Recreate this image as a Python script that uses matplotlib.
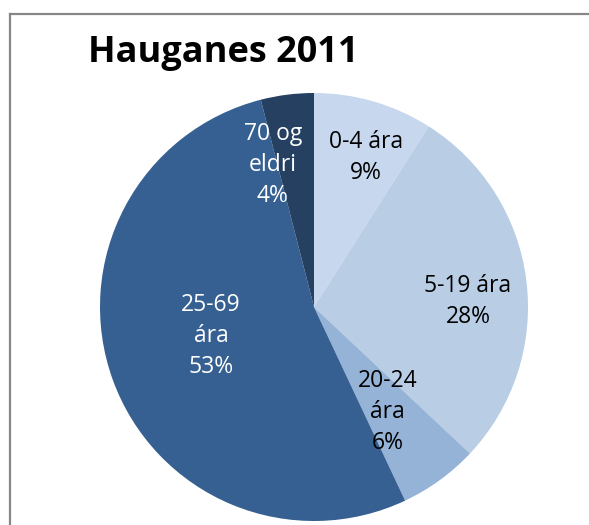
import matplotlib.pyplot as plt
import matplotlib.lines as mlines
import numpy as np

# age groups, Hauganes 2011
labels = ["0-4 ára", "5-19 ára", "20-24\nára", "25-69\nára", "70 og\neldri"]
shares = [9, 28, 6, 53, 4]
colors = ["#C6D7EE", "#B9CDE5", "#95B3D7", "#376092", "#254061"]
text_colors = ["black", "black", "black", "white", "white"]

# label placement (radius, angle nudge in degrees)
label_r = [0.74, 0.72, 0.60, 0.50, 0.69]
label_nudge = [-3, -5, -1, -4, 9]

plt.rcParams['font.family'] = ['Open Sans', 'DejaVu Sans']

W, H = 589, 525
fig = plt.figure(figsize=(W / 100, H / 100), dpi=100)

# chart frame (cropped on right and bottom)
fx, fy = 10 / W, 1 - 13.5 / H
fig.lines.append(mlines.Line2D([fx, 1.1], [fy, fy], transform=fig.transFigure,
                               color="#878787", linewidth=1.6))
fig.lines.append(mlines.Line2D([fx, fx], [fy, -0.1], transform=fig.transFigure,
                               color="#878787", linewidth=1.6))

cx, cy, r = 314, 307, 214
ax = fig.add_axes([(cx - r) / W, (H - cy - r) / H, 2 * r / W, 2 * r / H])
wedges, _ = ax.pie(shares, colors=colors, startangle=90, counterclock=False,
                   radius=1, wedgeprops=dict(linewidth=0))
ax.set_xlim(-1, 1)
ax.set_ylim(-1, 1)
ax.set_aspect("equal")
ax.axis("off")

for w, lab, s, tc, rr, nd in zip(wedges, labels, shares, text_colors, label_r, label_nudge):
    ang = np.deg2rad((w.theta1 + w.theta2) / 2 + nd)
    ax.text(rr * np.cos(ang), rr * np.sin(ang), f"{lab}\n{s}%",
            ha="center", va="center", color=tc, fontsize=16.5,
            linespacing=1.38)

fig.text(88 / W, 1 - 53 / H, "Hauganes 2011", ha="left", va="center",
         fontsize=26, fontweight="bold", color="black")

fig.savefig("out.png", dpi=100)
